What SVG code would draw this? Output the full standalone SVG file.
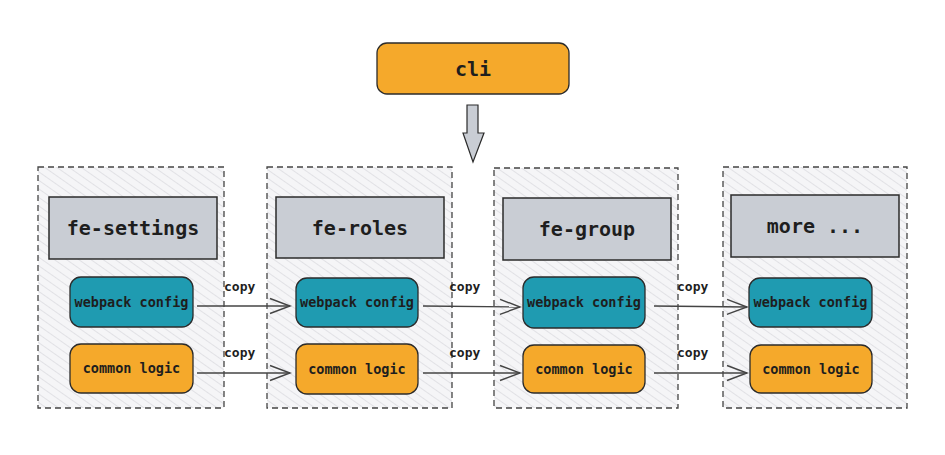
<svg xmlns="http://www.w3.org/2000/svg" width="945" height="455" viewBox="0 0 945 455">
<style>
.txt{font-family:"DejaVu Sans Mono","Liberation Mono",monospace;fill:#1e1e1e;text-anchor:middle;}
.title{font-size:20px;font-weight:bold;}
.item{font-size:13.5px;font-weight:bold;}
.lbl{font-family:"DejaVu Sans Mono","Liberation Mono",monospace;font-size:13px;fill:#1e1e1e;font-weight:bold;}
.cont{fill:url(#hatch);stroke:#444;stroke-width:1.3;stroke-dasharray:6 4;}
.head{fill:#c9cdd4;stroke:#2b2b2b;stroke-width:1.5;}
.teal{fill:#1f9bb1;stroke:#2b2b2b;stroke-width:1.3;}
.orng{fill:#f5a92b;stroke:#2b2b2b;stroke-width:1.3;}
.conn{fill:none;stroke:#444;stroke-width:1.4;marker-end:url(#arr);}
</style>
<defs>
<pattern id="hatch" patternUnits="userSpaceOnUse" width="7" height="7" patternTransform="rotate(-55)">
<rect width="7" height="7" fill="#f5f5f7"/>
<line x1="0" y1="0" x2="0" y2="7" stroke="#d6d7dc" stroke-width="1.3"/>
</pattern>
<marker id="arr" markerWidth="24" markerHeight="18" refX="22" refY="9" orient="auto" markerUnits="userSpaceOnUse">
<path d="M2,1.5 L22,9 L2,16.5" fill="none" stroke="#444" stroke-width="1.4"/>
</marker>
</defs>

<g id="cli">
<rect x="377" y="43" width="192" height="51" rx="10" class="orng"/>
<text x="473" y="76" class="txt title">cli</text>
</g>

<g id="cli-arrow">
<polygon points="467,105 478,105 478,133 484,133 473,162 463,133 467,133" fill="#c9cdd4" stroke="#2b2b2b" stroke-width="1.2"/>
</g>

<g id="fe-settings">
<rect x="38" y="167" width="186" height="241" class="cont"/>
<rect x="49" y="197" width="168" height="62" class="head"/>
<text x="133" y="235" class="txt title">fe-settings</text>
</g>
<g id="fe-settings-webpack">
<rect x="70" y="277" width="123" height="50" rx="11" class="teal"/>
<text x="131.5" y="306.5" class="txt item">webpack config</text>
</g>
<g id="fe-settings-common">
<rect x="70" y="344" width="123" height="49" rx="11" class="orng"/>
<text x="131.5" y="373" class="txt item">common logic</text>
</g>

<g id="fe-roles">
<rect x="267" y="167" width="185" height="241" class="cont"/>
<rect x="276" y="197" width="168" height="61" class="head"/>
<text x="360" y="235" class="txt title">fe-roles</text>
</g>
<g id="fe-roles-webpack">
<rect x="296" y="278" width="122" height="49" rx="11" class="teal"/>
<text x="357" y="307" class="txt item">webpack config</text>
</g>
<g id="fe-roles-common">
<rect x="296" y="344" width="122" height="50" rx="11" class="orng"/>
<text x="357" y="373.5" class="txt item">common logic</text>
</g>

<g id="fe-group">
<rect x="494" y="168" width="184" height="240" class="cont"/>
<rect x="503" y="198" width="168" height="62" class="head"/>
<text x="587" y="236" class="txt title">fe-group</text>
</g>
<g id="fe-group-webpack">
<rect x="523" y="277" width="122" height="51" rx="11" class="teal"/>
<text x="584" y="307" class="txt item">webpack config</text>
</g>
<g id="fe-group-common">
<rect x="523" y="345" width="122" height="48" rx="11" class="orng"/>
<text x="584" y="373.5" class="txt item">common logic</text>
</g>

<g id="more">
<rect x="723" y="167" width="184" height="241" class="cont"/>
<rect x="731" y="195" width="168" height="62" class="head"/>
<text x="815" y="233" class="txt title">more ...</text>
</g>
<g id="more-webpack">
<rect x="749" y="278" width="123" height="49" rx="11" class="teal"/>
<text x="810.5" y="307" class="txt item">webpack config</text>
</g>
<g id="more-common">
<rect x="750" y="345" width="122" height="48" rx="11" class="orng"/>
<text x="811" y="373.5" class="txt item">common logic</text>
</g>

<g id="connectors">
<path d="M197,306 L290,306" class="conn"/>
<path d="M197,373 L290,373" class="conn"/>
<path d="M423,306 L520,307" class="conn"/>
<path d="M423,373 L520,373" class="conn"/>
<path d="M654,306 L747,307" class="conn"/>
<path d="M654,373 L747,373" class="conn"/>
<text x="224" y="291" class="lbl">copy</text>
<text x="224" y="357" class="lbl">copy</text>
<text x="449" y="291" class="lbl">copy</text>
<text x="449" y="357" class="lbl">copy</text>
<text x="677" y="291" class="lbl">copy</text>
<text x="677" y="357" class="lbl">copy</text>
</g>
</svg>
